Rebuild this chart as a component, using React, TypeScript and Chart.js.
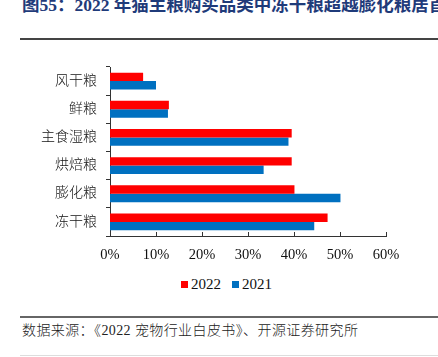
import React, { useEffect, useRef } from "react";
import { Chart, registerables } from "chart.js";

Chart.register(...registerables);

const categories = ["风干粮", "鲜粮", "主食湿粮", "烘焙粮", "膨化粮", "冻干粮"];
const values2022 = [7.2, 12.8, 39.5, 39.5, 40.1, 47.3];
const values2021 = [10.0, 12.6, 38.8, 33.4, 50.1, 44.4];
const seriesNames = ["2022", "2021"];
const seriesColors = ["#FF0000", "#0070C0"];
const xTicks = [0, 10, 20, 30, 40, 50, 60];

const SERIF = "'Times New Roman', 'Liberation Serif', 'Noto Sans CJK SC', serif";

const innerTicks = {
  id: "innerTicks",
  afterDraw(chart: any) {
    const x = chart.scales.x;
    const ctx = chart.ctx;
    const bottom = chart.chartArea.bottom;
    ctx.save();
    ctx.strokeStyle = "#333";
    ctx.lineWidth = 1;
    xTicks.forEach((t) => {
      const px = Math.round(x.getPixelForValue(t)) + 0.5;
      ctx.beginPath();
      ctx.moveTo(px, bottom);
      ctx.lineTo(px, bottom - 4);
      ctx.stroke();
    });
    ctx.restore();
  },
};

export default function App() {
  const ref = useRef<HTMLCanvasElement>(null);
  useEffect(() => {
    const chart = new Chart(ref.current!, {
      type: "bar",
      data: {
        labels: categories,
        datasets: [
          { label: seriesNames[0], data: values2022, backgroundColor: seriesColors[0], categoryPercentage: 0.6, barPercentage: 1 },
          { label: seriesNames[1], data: values2021, backgroundColor: seriesColors[1], categoryPercentage: 0.6, barPercentage: 1 },
        ],
      },
      options: {
        indexAxis: "y",
        animation: false,
        responsive: false,
        layout: { padding: { top: 27, right: 52, left: 0, bottom: 0 } },
        plugins: {
          legend: { display: false },
          tooltip: { enabled: false },
        },
        scales: {
          x: {
            min: 0,
            max: 60,
            ticks: {
              stepSize: 10,
              padding: 10,
              color: "#111",
              font: { family: SERIF, size: 14.5 },
              callback: (v: any) => v + "%",
            },
            grid: { display: false, drawTicks: false },
            border: { display: true, color: "#333", width: 1 },
            afterFit: (s: any) => { s.height = 32; },
          },
          y: {
            ticks: {
              padding: 9,
              color: "#111",
              font: { family: SERIF, size: 14, weight: "300" },
            },
            grid: { drawOnChartArea: false, offset: true, tickLength: 4, color: "#333" },
            border: { display: true, color: "#333", width: 1 },
            afterFit: (s: any) => { s.width = 110; },
          },
        },
      },
      plugins: [innerTicks],
    });
    return () => chart.destroy();
  }, []);

  return (
    <div style={{ position: "absolute", left: 0, top: 0, width: 438, height: 357, overflow: "hidden", background: "#fff" }}>
      <div style={{ position: "absolute", left: 22, top: -9, whiteSpace: "nowrap", fontFamily: SERIF, fontWeight: "bold", fontSize: 17.5, color: "#1F3B7A" }}>
        图55：2022 年猫主粮购买品类中冻干粮超越膨化粮居首
      </div>
      <div style={{ position: "absolute", left: 20, top: 38, width: 418, height: 2, background: "#444" }} />
      <canvas ref={ref} width={438} height={228} style={{ position: "absolute", left: 0, top: 40 }} />
      <div style={{ position: "absolute", left: 181, top: 276, display: "flex", alignItems: "center", fontFamily: SERIF, fontSize: 15, color: "#111", whiteSpace: "nowrap" }}>
        {seriesNames.map((n, i) => (
          <span key={n} style={{ display: "flex", alignItems: "center", marginRight: i === 0 ? 11 : 0 }}>
            <span style={{ display: "inline-block", width: 7, height: 7, background: seriesColors[i], marginRight: 3 }} />
            <span>{n}</span>
          </span>
        ))}
      </div>
      <div style={{ position: "absolute", left: 20, top: 316, width: 418, height: 2, background: "#666" }} />
      <div style={{ position: "absolute", left: 22, top: 319, whiteSpace: "nowrap", fontFamily: SERIF, fontSize: 14, fontWeight: 300, letterSpacing: 0.4, color: "#222" }}>
        数据来源：《2022 宠物行业白皮书》、开源证券研究所
      </div>
      <div style={{ position: "absolute", left: 20, top: 355, width: 418, height: 1, background: "#ddd" }} />
    </div>
  );
}
